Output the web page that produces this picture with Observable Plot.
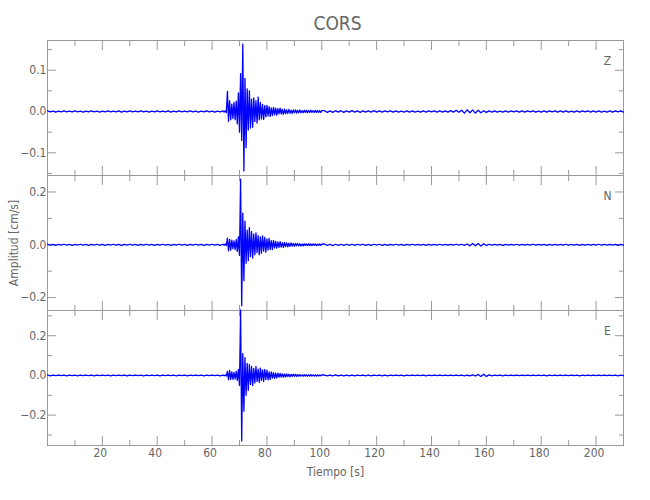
<!DOCTYPE html>
<html>
<head>
<meta charset="utf-8">
<script src="https://cdn.jsdelivr.net/npm/d3@7"></script>
<script src="https://cdn.jsdelivr.net/npm/@observablehq/plot@0.6"></script>
<style>
  body { margin: 0; background: #fff; }
  #chart { position: relative; width: 650px; height: 500px; }
  #chart svg { position: absolute; left: 0; top: 0; }
</style>
</head>
<body>
<div id="chart"></div>
<script>
// ---------------- DATA ----------------
const title = "CORS";
const components = ["Z", "N", "E"];
const xLabel = "Tiempo [s]";
const yLabel = "Amplitud [cm/s]";
const xDomain = [0, 210];
const xMajorTicks = [20, 40, 60, 80, 100, 120, 140, 160, 180, 200];
const xMinorTicks = [10, 30, 50, 70, 90, 110, 130, 150, 170, 190];

// sampling of the read-off values (seconds)
const preStart = 0, preStep = 1;        // 0 .. 63 s
const burstStart = 64, burstStep = 0.4; // 64 .. 100 s
const postStart = 101, postStep = 1;    // 101 .. 210 s

// y ranges and ticks per component
const zDomain = [-0.155, 0.172];
const nDomain = [-0.249, 0.2625];
const eDomain = [-0.353, 0.327];
const zMajor = [-0.1, 0, 0.1];
const zMinor = [-0.15, -0.05, 0.05, 0.15];
const nMajor = [-0.2, 0, 0.2];
const nMinor = [-0.1, 0.1];
const eMajor = [-0.2, 0, 0.2];
const eMinor = [-0.3, -0.1, 0.1, 0.3];

// Z component (cm/s), alternating peaks
const zPre = [0.0015,-0.001,0.001,-0.0015,0.001,-0.001,0.0015,-0.001,0.001,-0.001,
  0.0015,-0.001,0.001,-0.0015,0.001,-0.001,0.0015,-0.001,0.001,-0.0015,
  0.001,-0.001,0.0015,-0.001,0.001,-0.001,0.0015,-0.0015,0.001,-0.001,
  0.0015,-0.001,0.001,-0.001,0.0015,-0.001,0.001,-0.0015,0.001,-0.001,
  0.0015,-0.001,0.001,-0.001,0.0015,-0.0015,0.001,-0.001,0.0015,-0.001,
  0.001,-0.001,0.0015,-0.001,0.001,-0.0015,0.001,-0.001,0.0015,-0.001,
  0.001,-0.0015,0.001,-0.001];
const zBurst = [0.0015,-0.0015,0.002,-0.003,0.049,-0.024,0.026,-0.02,0.018,-0.017,
  0.022,-0.02,0.025,-0.03,0.045,-0.05,0.092,-0.07,0.163,-0.144,
  0.08,-0.088,0.055,-0.045,0.05,-0.04,0.03,-0.038,0.033,-0.024,
  0.026,-0.028,0.035,-0.02,0.022,-0.018,0.017,-0.019,0.014,-0.013,
  0.015,-0.011,0.012,-0.012,0.009,-0.01,0.01,-0.008,0.008,-0.009,
  0.007,-0.006,0.008,-0.006,0.005,-0.007,0.006,-0.005,0.004,-0.005,
  0.005,-0.004,0.003,-0.005,0.004,-0.003,0.004,-0.004,0.003,-0.003,
  0.004,-0.003,0.002,-0.003,0.003,-0.002,0.003,-0.003,0.002,-0.002,
  0.003,-0.002,0.002,-0.002,0.003,-0.002,0.002,-0.002,0.002,-0.002,0.002];
const zPost = [0.002,-0.002,0.0015,-0.002,0.002,-0.0015,0.002,-0.002,0.0015,-0.0015,
  0.002,-0.0015,0.0015,-0.002,0.0015,-0.0015,0.0015,-0.0015,0.002,-0.0015,
  0.0015,-0.0015,0.0015,-0.001,0.0015,-0.0015,0.0015,-0.0015,0.001,-0.0015,
  0.0015,-0.0015,0.0015,-0.0015,0.001,-0.0015,0.0015,-0.0015,0.0015,-0.001,
  0.0015,-0.0015,0.0015,-0.0015,0.0015,-0.0015,0.002,-0.0015,0.003,-0.002,
  0.003,-0.004,0.004,-0.003,0.004,-0.004,0.003,-0.003,0.002,-0.002,
  0.0015,-0.0015,0.0015,-0.0015,0.001,-0.0015,0.0015,-0.0015,0.0015,-0.001,
  0.0015,-0.0015,0.0015,-0.0015,0.0015,-0.001,0.0015,-0.0015,0.001,-0.0015,
  0.0015,-0.0015,0.0015,-0.001,0.0015,-0.0015,0.0015,-0.0015,0.0015,-0.0015,
  0.001,-0.0015,0.0015,-0.0015,0.0015,-0.001,0.0015,-0.0015,0.0015,-0.0015,
  0.0015,-0.0015,0.001,-0.0015,0.0015,-0.0015,0.0015,-0.001,0.0015,-0.0015];

// N component
const nPre = [0.002,-0.0015,0.0015,-0.002,0.0015,-0.0015,0.002,-0.0015,0.0015,-0.002,
  0.0015,-0.0015,0.002,-0.0015,0.0015,-0.002,0.0015,-0.0015,0.002,-0.0015,
  0.0015,-0.002,0.0015,-0.0015,0.002,-0.0015,0.0015,-0.002,0.0015,-0.0015,
  0.002,-0.0015,0.0015,-0.002,0.0015,-0.0015,0.002,-0.0015,0.0015,-0.002,
  0.0015,-0.0015,0.002,-0.0015,0.0015,-0.002,0.0015,-0.0015,0.002,-0.0015,
  0.0015,-0.002,0.0015,-0.0015,0.002,-0.0015,0.0015,-0.002,0.0015,-0.0015,
  0.002,-0.0015,0.0015,-0.002];
const nBurst = [0.002,-0.002,0.003,-0.003,0.025,-0.023,0.02,-0.02,0.018,-0.015,
  0.015,-0.018,0.02,-0.025,0.03,-0.04,0.249,-0.231,0.12,-0.136,
  0.09,-0.07,0.055,-0.06,0.065,-0.045,0.05,-0.05,0.04,-0.038,
  0.045,-0.03,0.035,-0.038,0.03,-0.032,0.034,-0.024,0.028,-0.028,
  0.022,-0.02,0.024,-0.018,0.016,-0.018,0.017,-0.012,0.013,-0.013,
  0.011,-0.01,0.012,-0.009,0.008,-0.01,0.009,-0.007,0.007,-0.008,
  0.006,-0.006,0.007,-0.005,0.005,-0.006,0.005,-0.004,0.005,-0.004,
  0.004,-0.004,0.003,-0.004,0.004,-0.003,0.003,-0.003,0.004,-0.003,
  0.003,-0.003,0.003,-0.002,0.003,-0.003,0.002,-0.002,0.003,-0.002,0.002];
const nPost = [0.003,-0.002,0.002,-0.003,0.002,-0.002,0.002,-0.002,0.002,-0.002,
  0.002,-0.002,0.002,-0.0015,0.002,-0.002,0.0015,-0.002,0.002,-0.0015,
  0.002,-0.002,0.0015,-0.002,0.0015,-0.0015,0.002,-0.0015,0.0015,-0.002,
  0.0015,-0.0015,0.002,-0.0015,0.0015,-0.0015,0.0015,-0.002,0.0015,-0.0015,
  0.0015,-0.0015,0.002,-0.0015,0.0015,-0.0015,0.0015,-0.0015,0.002,-0.0015,
  0.002,-0.002,0.003,-0.004,0.005,-0.004,0.005,-0.005,0.004,-0.003,
  0.002,-0.0015,0.0015,-0.0015,0.0015,-0.002,0.0015,-0.0015,0.0015,-0.0015,
  0.002,-0.0015,0.0015,-0.0015,0.0015,-0.0015,0.002,-0.0015,0.0015,-0.0015,
  0.0015,-0.002,0.0015,-0.0015,0.0015,-0.0015,0.0015,-0.0015,0.002,-0.0015,
  0.0015,-0.0015,0.0015,-0.002,0.0015,-0.0015,0.0015,-0.0015,0.0015,-0.0015,
  0.002,-0.0015,0.0015,-0.0015,0.0015,-0.0015,0.0015,-0.002,0.0015,-0.0015];

// E component
const ePre = [0.002,-0.002,0.0015,-0.0015,0.002,-0.0015,0.0015,-0.002,0.002,-0.0015,
  0.0015,-0.002,0.002,-0.0015,0.0015,-0.0015,0.002,-0.002,0.0015,-0.0015,
  0.002,-0.0015,0.0015,-0.002,0.002,-0.0015,0.0015,-0.0015,0.002,-0.002,
  0.0015,-0.0015,0.002,-0.0015,0.0015,-0.002,0.002,-0.0015,0.0015,-0.0015,
  0.002,-0.002,0.0015,-0.0015,0.002,-0.0015,0.0015,-0.002,0.002,-0.0015,
  0.0015,-0.002,0.002,-0.0015,0.0015,-0.0015,0.002,-0.002,0.0015,-0.0015,
  0.002,-0.0015,0.0015,-0.002];
const eBurst = [0.002,-0.002,0.002,-0.003,0.02,-0.022,0.025,-0.02,0.018,-0.02,
  0.015,-0.018,0.02,-0.025,0.03,-0.05,0.33,-0.33,0.11,-0.18,
  0.09,-0.1,0.06,-0.075,0.055,-0.045,0.045,-0.05,0.035,-0.038,
  0.045,-0.03,0.032,-0.035,0.036,-0.025,0.028,-0.03,0.03,-0.02,
  0.026,-0.022,0.018,-0.02,0.018,-0.013,0.014,-0.015,0.011,-0.012,
  0.011,-0.009,0.01,-0.008,0.008,-0.009,0.007,-0.008,0.007,-0.006,
  0.006,-0.007,0.005,-0.005,0.006,-0.004,0.005,-0.005,0.004,-0.004,
  0.004,-0.004,0.003,-0.004,0.004,-0.003,0.003,-0.004,0.003,-0.003,
  0.004,-0.003,0.003,-0.003,0.003,-0.003,0.002,-0.003,0.003,-0.002,0.002];
const ePost = [0.002,-0.002,0.002,-0.002,0.003,-0.002,0.002,-0.002,0.002,-0.002,
  0.002,-0.002,0.002,-0.0015,0.002,-0.002,0.0015,-0.002,0.002,-0.0015,
  0.002,-0.002,0.0015,-0.002,0.0015,-0.0015,0.002,-0.0015,0.0015,-0.002,
  0.0015,-0.0015,0.002,-0.0015,0.0015,-0.0015,0.0015,-0.002,0.0015,-0.0015,
  0.0015,-0.0015,0.002,-0.0015,0.0015,-0.0015,0.0015,-0.0015,0.002,-0.0015,
  0.002,-0.002,0.002,-0.002,0.003,-0.003,0.005,-0.005,0.006,-0.005,
  0.003,-0.002,0.0015,-0.0015,0.0015,-0.002,0.0015,-0.0015,0.0015,-0.0015,
  0.002,-0.0015,0.0015,-0.0015,0.0015,-0.0015,0.002,-0.0015,0.0015,-0.0015,
  0.0015,-0.002,0.0015,-0.0015,0.0015,-0.0015,0.0015,-0.0015,0.002,-0.0015,
  0.0015,-0.0015,0.0015,-0.002,0.0015,-0.0015,0.0015,-0.0015,0.0015,-0.0015,
  0.002,-0.0015,0.0015,-0.0015,0.0015,-0.0015,0.0015,-0.002,0.0015,-0.0015];

// ---------------- LAYOUT / STYLE ----------------
const W = 650, H = 500;
const panelTops = [40, 175, 310];
const panelBottoms = [175, 310, 445];
const FONT = '"DejaVu Sans Condensed", "Liberation Sans Narrow", "DejaVu Sans", sans-serif';
const TEXT = "#666";
const AXIS = "#999";
const TRACE = "#0000ff";

const sets = {
  Z: {pre: zPre, burst: zBurst, post: zPost, domain: zDomain, major: zMajor, minor: zMinor},
  N: {pre: nPre, burst: nBurst, post: nPost, domain: nDomain, major: nMajor, minor: nMinor},
  E: {pre: ePre, burst: eBurst, post: ePost, domain: eDomain, major: eMajor, minor: eMinor}
};

function series(s) {
  const pts = [];
  s.pre.forEach((v, i) => pts.push({t: preStart + i * preStep, v}));
  s.burst.forEach((v, i) => pts.push({t: burstStart + i * burstStep, v}));
  s.post.forEach((v, i) => pts.push({t: postStart + i * postStep, v}));
  return pts;
}

const chart = document.getElementById("chart");
const fmt = d3.format(".1f");

components.forEach((c, k) => {
  const s = sets[c];
  const data = series(s);
  const marks = [
    Plot.frame({stroke: AXIS}),
    Plot.axisX(xMinorTicks, {anchor: "bottom", tickSize: -5, fill: "none", label: null, stroke: AXIS}),
    Plot.axisX(xMajorTicks, {anchor: "bottom", tickSize: -9, fill: "none", label: null, stroke: AXIS}),
    Plot.axisX(xMinorTicks, {anchor: "top", tickSize: -5, fill: "none", label: null, stroke: AXIS}),
    Plot.axisX(xMajorTicks, {anchor: "top", tickSize: -9, fill: "none", label: null, stroke: AXIS}),
    Plot.axisY(s.minor, {anchor: "left", tickSize: -5, fill: "none", label: null, stroke: AXIS}),
    Plot.axisY(s.major, {anchor: "left", tickSize: -9, fill: "none", label: null, stroke: AXIS}),
    Plot.axisY(s.minor, {anchor: "right", tickSize: -5, fill: "none", label: null, stroke: AXIS}),
    Plot.axisY(s.major, {anchor: "right", tickSize: -9, fill: "none", label: null, stroke: AXIS}),
    Plot.axisY(s.major, {anchor: "left", tickSize: 0, tickPadding: 1, tickFormat: fmt, label: null, fill: TEXT, fontSize: 12}),
    Plot.line(data, {x: "t", y: "v", stroke: TRACE, strokeWidth: 1.3}),
    Plot.text([c], {frameAnchor: "top-right", dx: -16, dy: 21, textAnchor: "middle", lineAnchor: "middle", fill: TEXT, fontSize: 12})
  ];
  if (k === 0) {
    marks.push(Plot.text([title], {frameAnchor: "top", dx: 2, dy: -17, textAnchor: "middle", lineAnchor: "middle", fill: TEXT, fontSize: 19}));
  }
  if (k === 1) {
    marks.push(Plot.text([yLabel], {frameAnchor: "left", dx: -33, rotate: -90, textAnchor: "middle", lineAnchor: "middle", fill: TEXT, fontSize: 12}));
  }
  if (k === 2) {
    marks.push(Plot.axisX(xMajorTicks, {anchor: "bottom", tickSize: 0, tickPadding: 3, dx: -2, label: null, fill: TEXT, fontSize: 12}));
    marks.push(Plot.text([xLabel], {frameAnchor: "bottom", dy: 27, textAnchor: "middle", lineAnchor: "middle", fill: TEXT, fontSize: 12}));
  }
  const svg = Plot.plot({
    width: W,
    height: H,
    marginLeft: 47,
    marginRight: W - 623,
    marginTop: panelTops[k],
    marginBottom: H - panelBottoms[k],
    style: {background: "transparent", fontFamily: FONT, fontSize: "12px", color: TEXT},
    x: {domain: xDomain},
    y: {domain: s.domain},
    marks
  });
  chart.appendChild(svg);
});
</script>
</body>
</html>
